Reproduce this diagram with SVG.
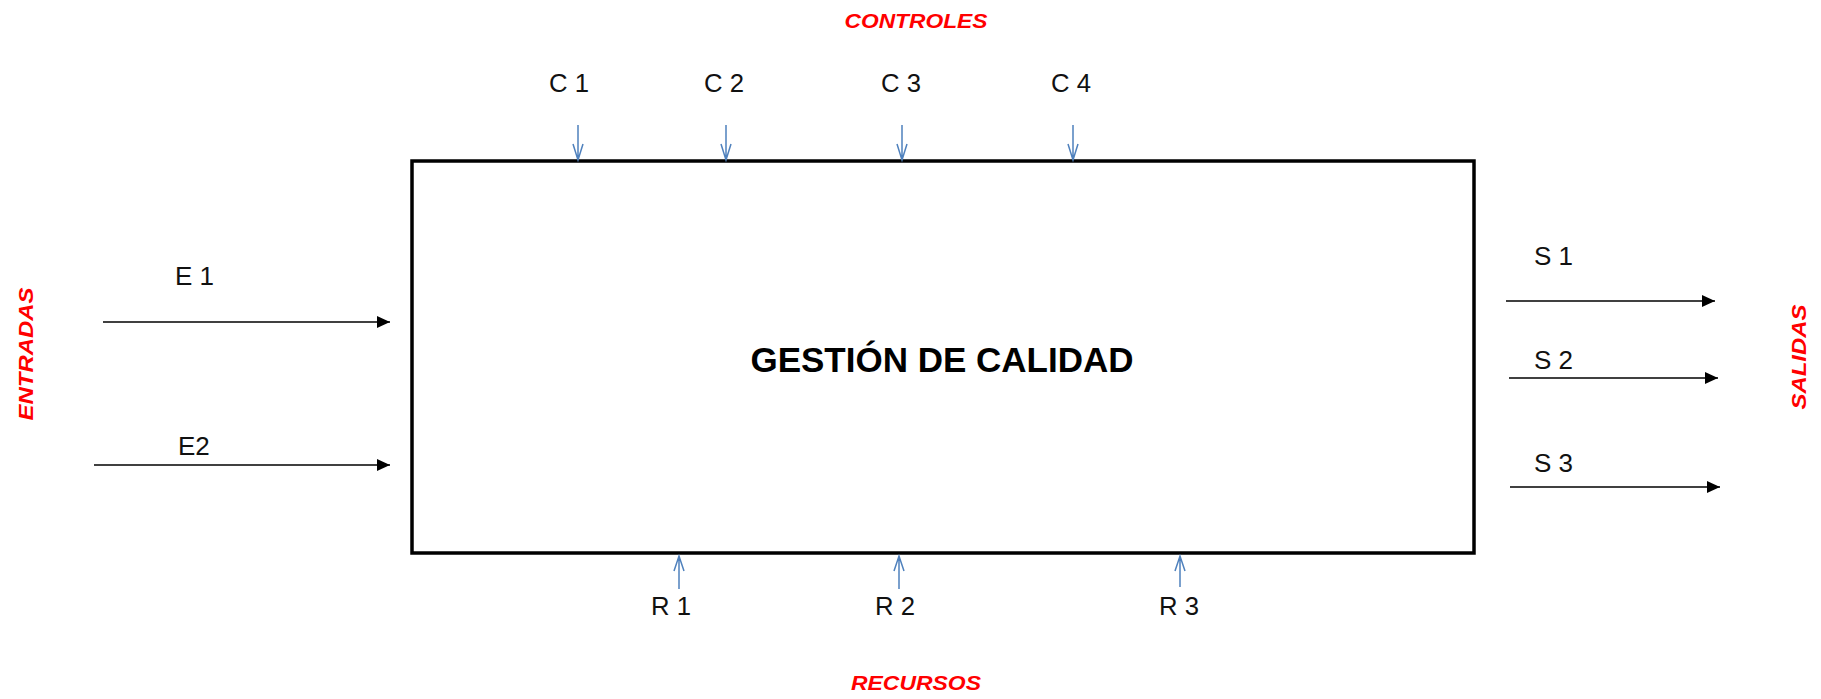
<svg xmlns="http://www.w3.org/2000/svg" width="1821" height="699" viewBox="0 0 1821 699">
<defs>
<style>
.lbl{font-family:"Liberation Sans",Arial,sans-serif;font-size:26px;fill:#111;text-anchor:middle}
.lblw{font-family:"Liberation Sans",Arial,sans-serif;font-size:26px;fill:#111}
.red{font-family:"Liberation Sans",Arial,sans-serif;font-size:21px;font-weight:bold;font-style:italic;fill:#ff0000;text-anchor:middle}
.blk{stroke:#000;stroke-width:1.6;fill:none;marker-end:url(#tri)}
.blu{stroke:#4f81bd;stroke-width:1.5;fill:none}
</style>
<marker id="tri" markerUnits="userSpaceOnUse" markerWidth="14" markerHeight="12" refX="13" refY="6" orient="auto">
<path d="M0,0 L13,6 L0,12 z" fill="#000"/>
</marker>
</defs>
<rect width="1821" height="699" fill="#fff"/>
<g id="box">
<rect x="412" y="161" width="1062" height="392" fill="#fff" stroke="#000" stroke-width="3.5"/>
<text x="942" y="372" font-family="Liberation Sans,Arial,sans-serif" font-size="35" font-weight="bold" text-anchor="middle" fill="#000">GESTIÓN DE CALIDAD</text>
</g>
<g id="titles">
<text class="red" x="916" y="28" textLength="143" lengthAdjust="spacingAndGlyphs">CONTROLES</text>
<text class="red" x="916" y="690" textLength="130" lengthAdjust="spacingAndGlyphs">RECURSOS</text>
<text class="red" transform="translate(33,354) rotate(-90)" textLength="133" lengthAdjust="spacingAndGlyphs">ENTRADAS</text>
<text class="red" transform="translate(1806,357) rotate(-90)" textLength="105" lengthAdjust="spacingAndGlyphs">SALIDAS</text>
</g>
<g id="labels">
<text class="lbl" x="569" y="92" textLength="40" lengthAdjust="spacingAndGlyphs">C 1</text>
<text class="lbl" x="724" y="92" textLength="40" lengthAdjust="spacingAndGlyphs">C 2</text>
<text class="lbl" x="901" y="92" textLength="40" lengthAdjust="spacingAndGlyphs">C 3</text>
<text class="lbl" x="1071" y="92" textLength="40" lengthAdjust="spacingAndGlyphs">C 4</text>
<text class="lbl" x="671" y="615" textLength="40" lengthAdjust="spacingAndGlyphs">R 1</text>
<text class="lbl" x="895" y="615" textLength="40" lengthAdjust="spacingAndGlyphs">R 2</text>
<text class="lbl" x="1179" y="615" textLength="40" lengthAdjust="spacingAndGlyphs">R 3</text>
<text class="lblw" x="175" y="285">E 1</text>
<text class="lblw" x="178" y="455">E2</text>
<text class="lblw" x="1534" y="265">S 1</text>
<text class="lblw" x="1534" y="369">S 2</text>
<text class="lblw" x="1534" y="472">S 3</text>
</g>
<g id="connectors">
<line class="blk" x1="103" y1="322" x2="390" y2="322"/>
<line class="blk" x1="94" y1="465" x2="390" y2="465"/>
<line class="blk" x1="1506" y1="301" x2="1715" y2="301"/>
<line class="blk" x1="1509" y1="378" x2="1718" y2="378"/>
<line class="blk" x1="1510" y1="487" x2="1720" y2="487"/>
<g class="blu">
<path d="M578,125 V160 M573,144 L578,160 L583,144"/>
<path d="M726,125 V160 M721,144 L726,160 L731,144"/>
<path d="M902,125 V160 M897,144 L902,160 L907,144"/>
<path d="M1073,125 V160 M1068,144 L1073,160 L1078,144"/>
<path d="M679,589 V556 M674,571 L679,556 L684,571"/>
<path d="M899,589 V556 M894,571 L899,556 L904,571"/>
<path d="M1180,587 V556 M1175,571 L1180,556 L1185,571"/>
</g>
</g>
</svg>
